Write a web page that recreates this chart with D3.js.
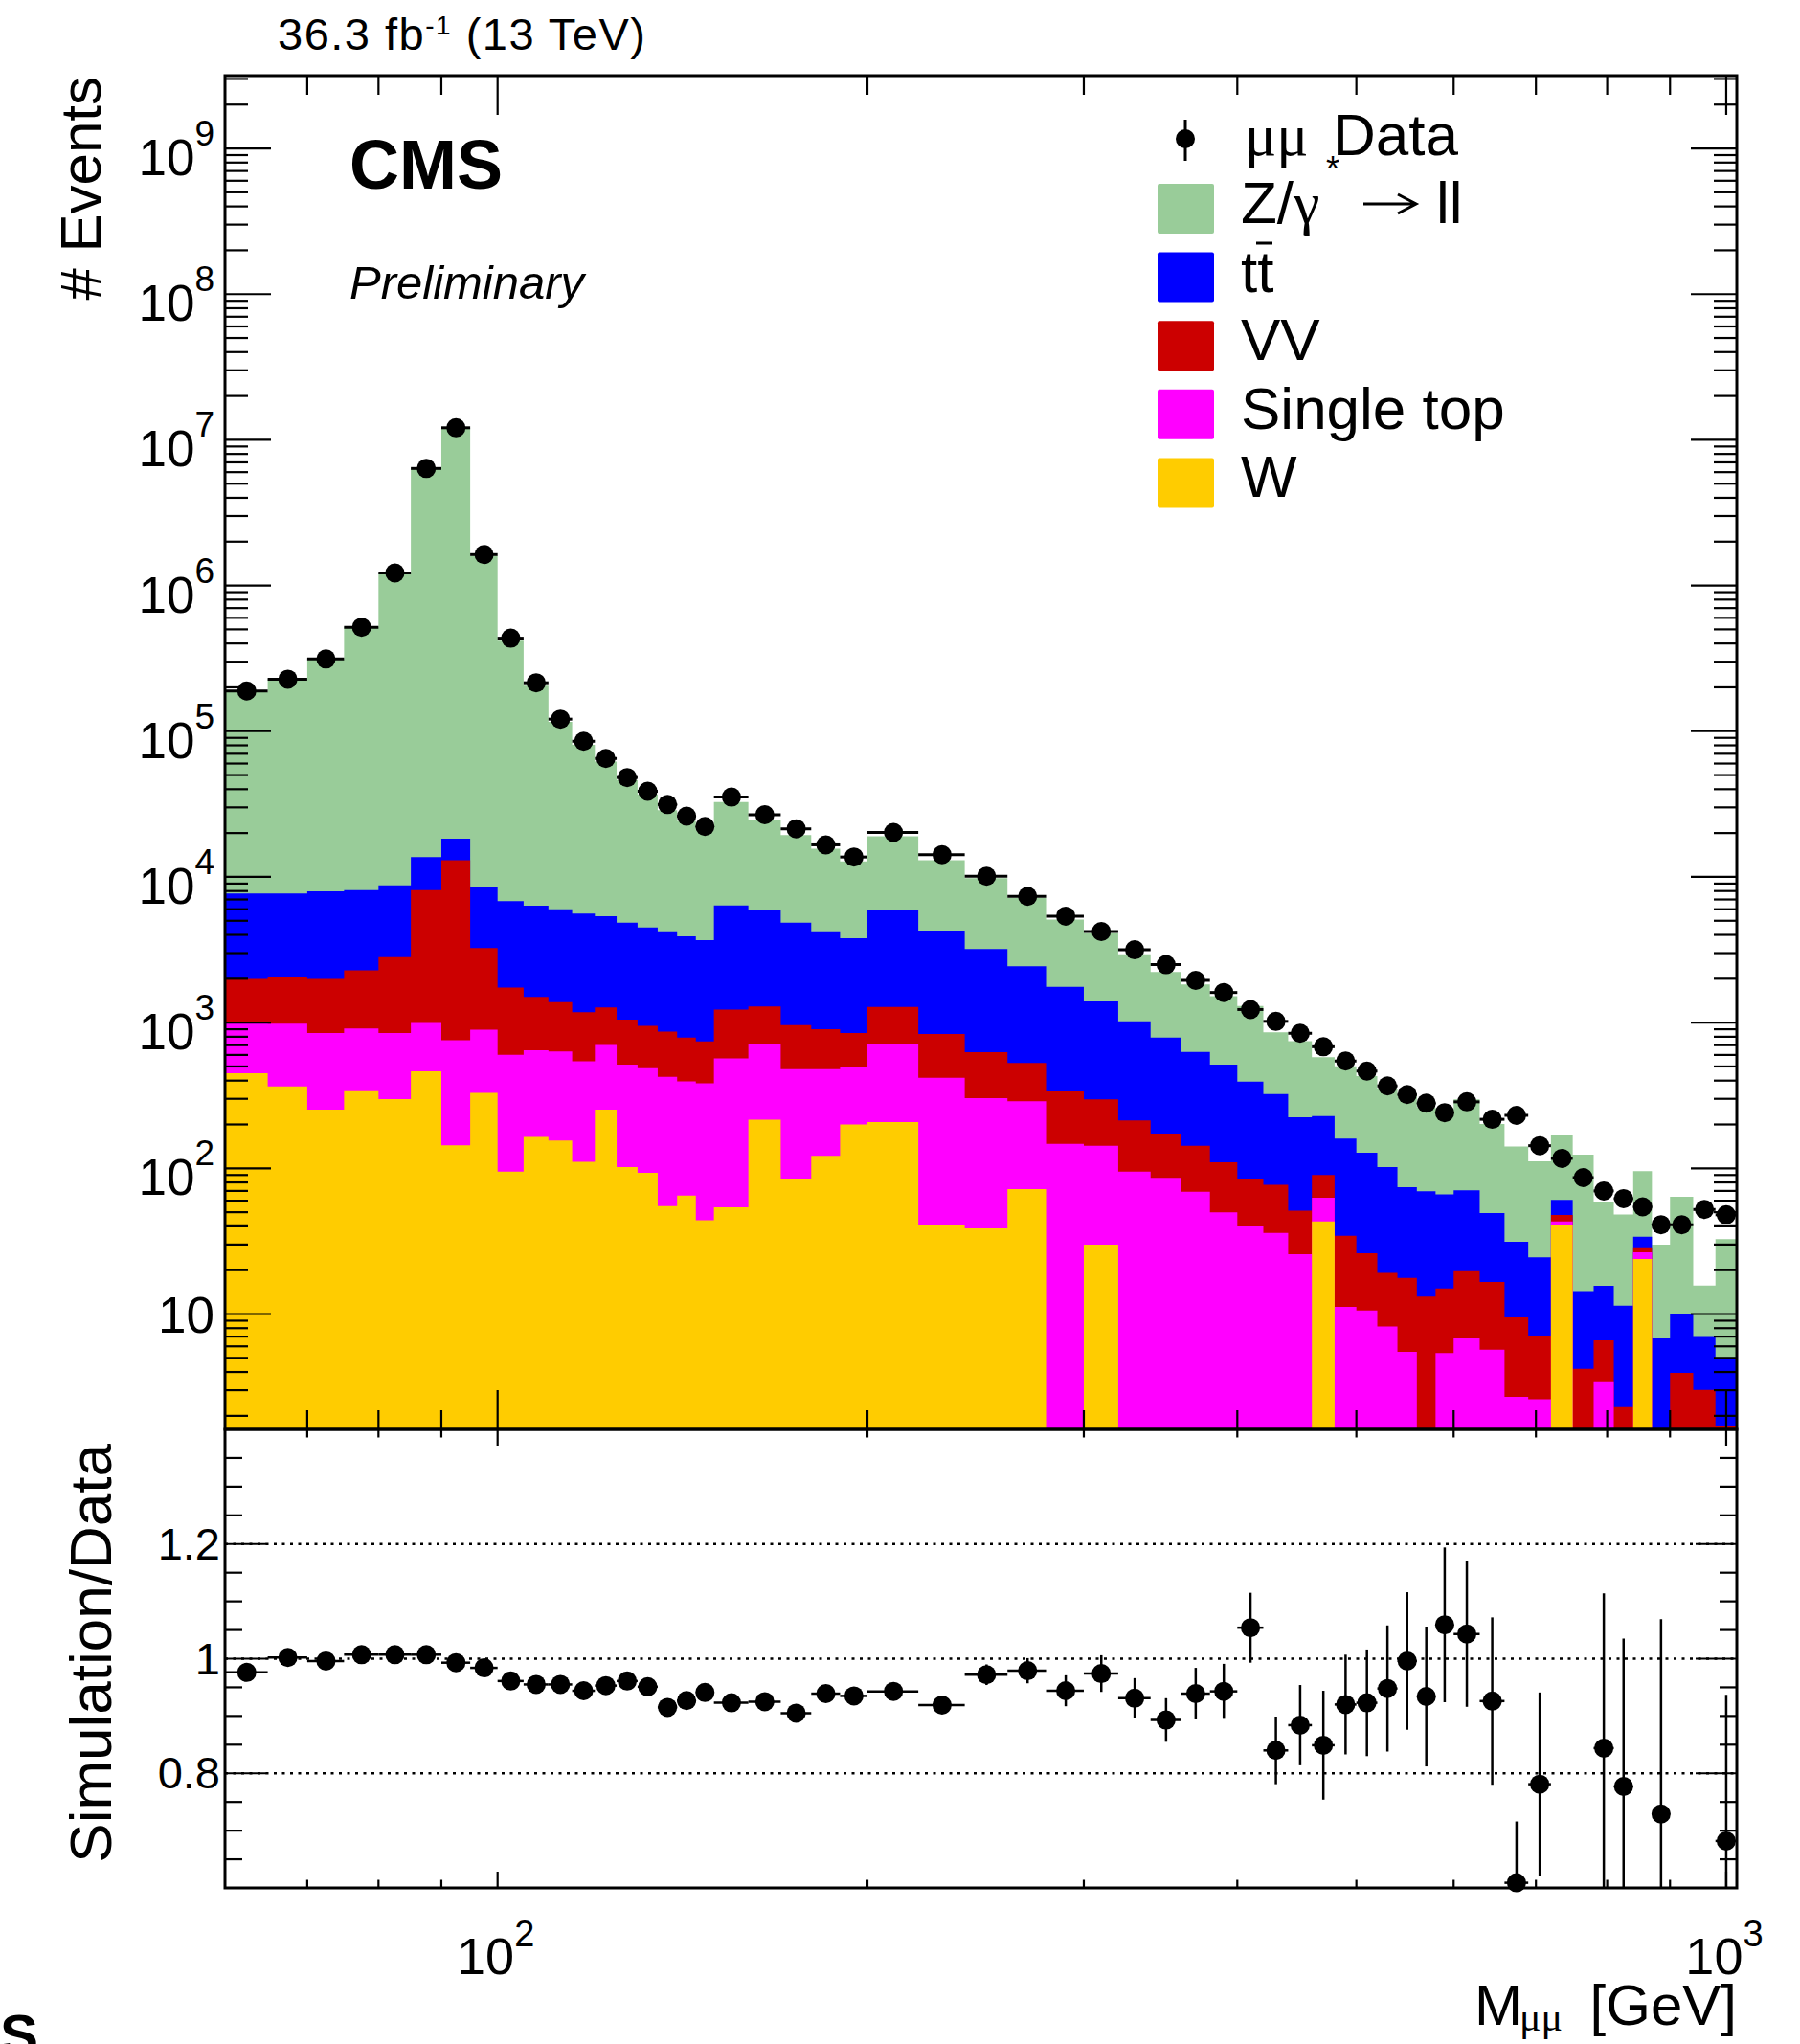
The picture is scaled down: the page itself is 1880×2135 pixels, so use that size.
<!DOCTYPE html>
<html><head><meta charset="utf-8">
<script src="https://cdn.jsdelivr.net/npm/d3@7"></script>
<style>
html,body{margin:0;padding:0;background:#fff;}
svg{display:block;}
text{font-family:"Liberation Sans",Arial,Helvetica,sans-serif;fill:#000;}
</style></head><body>
<svg id="c" width="1880" height="2135"></svg>
<script>
// ---------------- DATA ----------------
const binEdges = [60,65,70,75,80,85,90,95,100,105,110,115,120,125,130,135,140,145,150,160,170,180,190,200,220,240,260,280,300,320,340,360,380,400,420,440,460,480,500,520,540,560,580,600,630,660,690,720,750,780,810,840,870,900,940,980,1020];
const data = [189000,227500,313000,517000,1220000,6360000,12100000,1630000,435000,215000,121000,85300,65000,48100,38700,31400,26100,22200,35300,26700,21400,16600,13700,20200,14200,10100,7360,5380,4220,3160,2500,1950,1610,1230,1020,845,683,545,465,368,321,280,241,286,217,231,143,117,86.4,70,62,54.4,41,41,52.2,48];
const zll = [177300,220300,304000,511900,1221000,6386000,11980000,1591000,411200,198700,110000,74900,56600,41350,32300,24470,20290,17220,26240,18810,14550,11370,9010,13110,8710,6600,4760,3340,2710,1920,1441,1200,1005,906,535,523,352,341,301,247,246,192,189,227,152,110,87.2,107,110,43.4,36.8,61.8,23.1,53.9,8.75,27.7];
const ttbar = [5705,5663,5975,5848,5940,5570,5300,5320,5080,4840,4620,4420,4100,3800,3548,3362,3119,2936,5130,4600,3890,3328,2941,4610,3454,2572,1912,1423,1103,807,616,487,405,308,246,173,138,125.5,102,82.8,56.6,56.4,51.2,51,32.8,21.8,17.4,13,10.2,9,9.1,5.6,6.8,6.05,3.93,3.3];
const vv = [1002,1055,1146,1370,1961,7137,12243,2357,1139,853,746,638,567,536,465,444,396,361,662,574,481,423,351,570,419,324,239,190,154,118,87,74,60,45,41,25.5,27.2,23.3,15.5,11,12.2,13.2,9.6,12.9,10.9,6.8,4.5,4.6,4.2,3.2,2.3,1.8,0,3.95,3.02,1.69];
const singleTop = [543,617,596,573,550,529,613,564,506,483,479,431,450,412,394,369,330,339,515,500,394,357,298,502,377,265,217,147,113,95,86,69,50,40,36,25.7,19.6,11.2,10.6,8.2,5.5,0,5.4,6.8,5.7,2.7,2.6,2.6,0,3.4,0,2.6,0,0,0,0];
const wjets = [450,365,253,339,299,464,144,329,95,164,155,111,253,102,93,55,65,44,54,216,85,122,200,208,40.5,38.7,72,0,30,0,0,0,0,0,0,0,43.3,0,0,0,0,0,0,0,0,0,0,40.6,0,0,0,23.9,0,0,0,0];
const ratio = [0.976,1.002,0.996,1.007,1.007,1.007,0.993,0.984,0.961,0.955,0.955,0.944,0.953,0.961,0.951,0.915,0.927,0.941,0.923,0.925,0.905,0.939,0.935,0.943,0.919,0.972,0.979,0.944,0.974,0.931,0.893,0.939,0.943,1.054,0.840,0.884,0.849,0.920,0.923,0.948,0.996,0.934,1.059,1.043,0.926,0.609,0.781,1.44,1.44,0.844,0.777,1.76,0.729,1.56,0.30,0.682];
const ratioErr = [0.003,0.003,0.003,0.002,0.002,0.001,0.001,0.002,0.003,0.004,0.005,0.005,0.006,0.007,0.008,0.008,0.009,0.010,0.008,0.009,0.010,0.011,0.012,0.010,0.013,0.018,0.022,0.027,0.032,0.035,0.038,0.045,0.048,0.061,0.059,0.070,0.095,0.087,0.093,0.110,0.120,0.122,0.135,0.127,0.146,0.107,0.160,0.190,0.220,0.270,0.258,0.300,0.340,0.350,0.200,0.255];

const processKeys = ['W','ST','VV','TT','Z'];
const processLabels = ['W','Single top','VV','tt','Z/γ'];
const processColors = {Z:'#99cc99', TT:'#0000ff', VV:'#cc0000', ST:'#ff00ff', W:'#ffcc00'};
const xTickValues = [70,80,90,100,200,300,400,500,600,700,800,900,1000];
const xMajorTicks = [100,1000];
const yExpLabels = [1,2,3,4,5,6,7,8,9];
const ratioTickLabels = ['0.8','1','1.2'];

// ---------------- LAYOUT ----------------
const L = 235, R = 1814, T1 = 79, B1 = 1493, T2 = 1493, B2 = 1972;
const YMIN = 1.615, YMAX = 3.16e9;
const x = d3.scaleLog().domain([60, 1020]).range([L, R]);
const y = d3.scaleLog().domain([YMIN, YMAX]).range([B1, T1]);
const yr = d3.scaleLinear().domain([0.6, 1.4]).range([B2, T2]);
const svg = d3.select('#c');

const bins = data.map((d, i) => ({
  x0: binEdges[i], x1: binEdges[i+1], data: d, ratio: ratio[i], err: ratioErr[i],
  W: wjets[i], ST: singleTop[i], VV: vv[i], TT: ttbar[i], Z: zll[i]
}));
const stacked = d3.stack().keys(processKeys)(bins);
const yv = v => v > 0 ? y(Math.max(v, YMIN)) : B1;

svg.append('defs').html(
  `<clipPath id="clipUp"><rect x="${L}" y="${T1}" width="${R-L}" height="${B1-T1}"/></clipPath>
   <clipPath id="clipLo"><rect x="${L}" y="${T2}" width="${R-L}" height="${B2-T2}"/></clipPath>`);

// stacked histogram (largest cumulative first)
const gStack = svg.append('g').attr('clip-path', 'url(#clipUp)');
for (let k = stacked.length - 1; k >= 0; k--) {
  const layer = stacked[k];
  const pts = [];
  layer.forEach((s, i) => {
    const yy = yv(s[1]);
    pts.push([x(bins[i].x0), yy], [x(bins[i].x1), yy]);
  });
  const area = d3.area().x(p => p[0]).y0(B1).y1(p => p[1]);
  gStack.append('path').attr('d', area(pts)).attr('fill', processColors[layer.key]);
}

// data points (main)
const gData = svg.append('g');
bins.forEach(b => {
  const cx = x((b.x0 + b.x1) / 2), cy = y(b.data);
  gData.append('line').attr('x1', x(b.x0)).attr('x2', x(b.x1)).attr('y1', cy).attr('y2', cy)
    .attr('stroke', '#000').attr('stroke-width', 3);
  gData.append('circle').attr('cx', cx).attr('cy', cy).attr('r', 10).attr('fill', '#000');
});

// ratio panel gridlines
[0.8, 1.0, 1.2].forEach(v => {
  svg.append('line').attr('x1', L).attr('x2', R).attr('y1', yr(v)).attr('y2', yr(v))
    .attr('stroke', '#000').attr('stroke-width', 2.5).attr('stroke-dasharray', '3,5.5');
});

// ratio points
const gR = svg.append('g');
const gRc = gR.append('g').attr('clip-path', 'url(#clipLo)');
bins.forEach(b => {
  if (b.ratio < 0.6 || b.ratio > 1.4) return;
  const cx = x((b.x0 + b.x1) / 2), cy = yr(b.ratio);
  gRc.append('line').attr('x1', x(b.x0)).attr('x2', x(b.x1)).attr('y1', cy).attr('y2', cy)
    .attr('stroke', '#000').attr('stroke-width', 2.5);
  gRc.append('line').attr('x1', cx).attr('x2', cx).attr('y1', yr(b.ratio - b.err)).attr('y2', yr(b.ratio + b.err))
    .attr('stroke', '#000').attr('stroke-width', 2.5);
  gR.append('circle').attr('cx', cx).attr('cy', cy).attr('r', 10).attr('fill', '#000');
});

// ---------------- AXES / FRAMES ----------------
const gAx = svg.append('g').attr('stroke', '#000').attr('stroke-width', 2.2);
function tick(x1, y1, x2, y2) { gAx.append('line').attr('x1', x1).attr('y1', y1).attr('x2', x2).attr('y2', y2); }

// x ticks (both panels)
xTickValues.forEach(v => {
  const xx = x(v), major = xMajorTicks.includes(v);
  const lu = major ? 41 : 20;
  tick(xx, B1, xx, B1 - lu); tick(xx, T1, xx, T1 + lu);
  const ll = major ? 17 : 8.5;
  tick(xx, T2, xx, T2 + ll); tick(xx, B2, xx, B2 - ll);
});
// upper y ticks
y.ticks(20).forEach(v => {
  const lg = Math.log10(v);
  const major = Math.abs(lg - Math.round(lg)) < 1e-9;
  const len = major ? 48 : 24;
  const yy = y(v);
  tick(L, yy, L + len, yy); tick(R, yy, R - len, yy);
});
// lower y ticks
d3.range(0, 17).forEach(i => {
  const v = 0.6 + i * 0.05;
  const major = i % 4 === 0;
  const len = major ? 43 : 18;
  const yy = yr(v);
  tick(L, yy, L + len, yy); tick(R, yy, R - len, yy);
});
// frames
svg.append('rect').attr('x', L).attr('y', T1).attr('width', R - L).attr('height', B1 - T1)
  .attr('fill', 'none').attr('stroke', '#000').attr('stroke-width', 3);
svg.append('rect').attr('x', L).attr('y', T2).attr('width', R - L).attr('height', B2 - T2)
  .attr('fill', 'none').attr('stroke', '#000').attr('stroke-width', 3);

// tick labels
yExpLabels.forEach(e => {
  const yy = y(Math.pow(10, e));
  const t = svg.append('text').attr('x', 224).attr('y', yy + (e === 1 ? 20 : 28))
    .attr('text-anchor', 'end').attr('font-size', 53);
  t.append('tspan').text('10');
  if (e !== 1) t.append('tspan').attr('font-size', 37).attr('dy', -31).text(e);
});
xMajorTicks.forEach(v => {
  const t = svg.append('text').attr('x', x(v) - 2).attr('y', 2062).attr('text-anchor', 'middle').attr('font-size', 54);
  t.append('tspan').text('10');
  t.append('tspan').attr('font-size', 38).attr('dy', -29).text(Math.round(Math.log10(v)));
});
ratioTickLabels.forEach(s => {
  svg.append('text').attr('x', 230).attr('y', yr(+s) + 16).attr('text-anchor', 'end')
    .attr('font-size', 47).text(s);
});

// axis titles
svg.append('text').attr('transform', 'translate(105,80) rotate(-90)').attr('text-anchor', 'end')
  .attr('font-size', 60).text('# Events');
svg.append('text').attr('transform', 'translate(116,1508) rotate(-90)').attr('text-anchor', 'end')
  .attr('font-size', 62).text('Simulation/Data');
svg.append('text').attr('x', 1540).attr('y', 2115).attr('font-size', 60).text('M');
svg.append('text').attr('x', 1587).attr('y', 2121).attr('font-size', 42)
  .style('font-family', '"Liberation Serif","DejaVu Serif",serif').text('μμ');
svg.append('text').attr('x', 1814).attr('y', 2115).attr('text-anchor', 'end').attr('font-size', 60).text('[GeV]');

// header texts
const lumi = svg.append('text').attr('x', 290).attr('y', 52).attr('font-size', 47).attr('letter-spacing', 1.5);
lumi.append('tspan').text('36.3 fb');
lumi.append('tspan').attr('font-size', 28).attr('dy', -16).text('-1');
lumi.append('tspan').attr('font-size', 47).attr('dy', 16).text(' (13 TeV)');
svg.append('text').attr('x', 365).attr('y', 197).attr('font-size', 72).attr('font-weight', 'bold').text('CMS');
svg.append('text').attr('x', 365).attr('y', 312).attr('font-size', 49).attr('font-style', 'italic').text('Preliminary');
svg.append('text').attr('x', 40).attr('y', 2146).attr('text-anchor', 'end').attr('font-size', 60)
  .attr('font-weight', 'bold').text('CMS');

// ---------------- LEGEND ----------------
const gL = svg.append('g');
gL.append('line').attr('x1', 1238).attr('x2', 1238).attr('y1', 125).attr('y2', 168).attr('stroke', '#000').attr('stroke-width', 3);
gL.append('circle').attr('cx', 1238).attr('cy', 145).attr('r', 10).attr('fill', '#000');
gL.append('text').attr('x', 1300).attr('y', 162).attr('font-size', 62)
  .style('font-family', '"Liberation Serif","DejaVu Serif",serif').text('μμ');
gL.append('text').attr('x', 1392).attr('y', 162).attr('font-size', 62).text('Data');
gL.append('text').attr('x', 1392).attr('y', 189).attr('text-anchor', 'middle').attr('font-size', 36).text('*');

const legendOrder = ['Z','TT','VV','ST','W'];
legendOrder.forEach((k, i) => {
  const cy = 218 + i * 71.6;
  gL.append('rect').attr('x', 1209).attr('y', cy - 26).attr('width', 59).attr('height', 52)
    .attr('rx', 2).attr('fill', processColors[k]);
  const base = cy + 15;
  if (k === 'Z') {
    const t = gL.append('text').attr('x', 1296).attr('y', base).attr('font-size', 62);
    t.append('tspan').text('Z/');
    t.append('tspan').style('font-family', '"Liberation Serif","DejaVu Serif",serif').text('γ');
    gL.append('path').attr('d', `M1424,${cy-5}L1477,${cy-5}M1460,${cy-15}L1479,${cy-5}L1460,${cy+5}`)
      .attr('fill', 'none').attr('stroke', '#000').attr('stroke-width', 3);
    gL.append('text').attr('x', 1500).attr('y', base).attr('font-size', 62).text('ll');
  } else if (k === 'TT') {
    gL.append('text').attr('x', 1296).attr('y', base).attr('font-size', 62).text('tt');
    gL.append('line').attr('x1', 1312).attr('x2', 1329).attr('y1', 254).attr('y2', 254)
      .attr('stroke', '#000').attr('stroke-width', 3);
  } else {
    gL.append('text').attr('x', 1296).attr('y', base).attr('font-size', 62)
      .text(processLabels[processKeys.indexOf(k)]);
  }
});
</script>
</body></html>
